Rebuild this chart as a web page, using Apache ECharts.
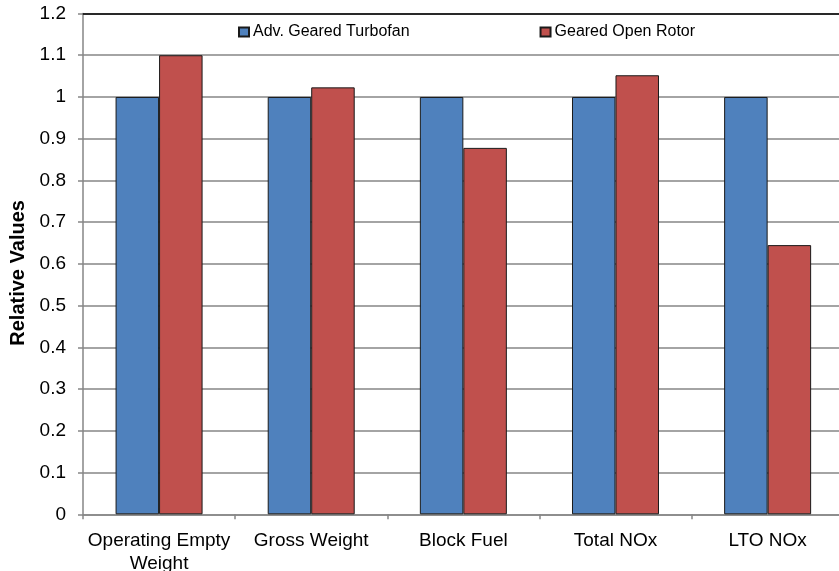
<!DOCTYPE html>
<html>
<head>
<meta charset="utf-8">
<script src="https://cdn.jsdelivr.net/npm/echarts@6/dist/echarts.min.js"></script>
<style>
  html, body { margin: 0; padding: 0; background: #fff; }
  #chart { width: 839px; height: 571px; }
</style>
</head>
<body>
<div id="chart"></div>
<script>
// Engine comparison, values relative to the turbofan baseline
const categories = ['Operating Empty\nWeight', 'Gross Weight', 'Block Fuel', 'Total NOx', 'LTO NOx'];
const turbofanValues = [1, 1, 1, 1, 1];
const openRotorValues = [1.10, 1.023, 0.878, 1.052, 0.645];
const seriesNames = ['Adv. Geared Turbofan', 'Geared Open Rotor'];

const FONT = 'Liberation Sans, Arial, sans-serif';
const GRID_GRAY = '#868686';

const chart = echarts.init(document.getElementById('chart'), null, { renderer: 'canvas' });

chart.setOption({
  animation: false,
  backgroundColor: '#ffffff',
  textStyle: { fontFamily: FONT },
  grid: { left: 83, top: 13.5, right: -4.7, bottom: 56.7, containLabel: false, outerBoundsMode: 'none' },
  legend: {
    left: 233,
    top: 19,
    itemWidth: 10,
    itemHeight: 9,
    itemGap: 130,
    icon: 'rect',
    textStyle: { fontFamily: FONT, fontSize: 16, color: '#000', padding: [0, 0, 0, -1] },
    data: seriesNames
  },
  xAxis: [
    {
      type: 'category',
      data: categories,
      position: 'bottom',
      axisLine: { lineStyle: { color: GRID_GRAY, width: 1.5 } },
      axisTick: { show: true, length: 5, inside: false, lineStyle: { color: GRID_GRAY, width: 1.5 } },
      axisLabel: { interval: 0, margin: 15, fontSize: 19, lineHeight: 23, color: '#000', fontFamily: FONT },
      splitLine: { show: false }
    },
    {
      type: 'category',
      data: categories,
      position: 'top',
      axisLine: { lineStyle: { color: '#000', width: 1.5 } },
      axisTick: { show: false },
      axisLabel: { show: false },
      splitLine: { show: false }
    }
  ],
  yAxis: {
    type: 'value',
    min: 0,
    max: 1.2,
    interval: 0.1,
    name: 'Relative Values',
    nameLocation: 'middle',
    nameRotate: 90,
    nameGap: 47,
    nameTextStyle: { fontSize: 20, fontWeight: 'bold', color: '#000', fontFamily: FONT, padding: [0, 18, 0, 0] },
    axisLine: { show: true, lineStyle: { color: GRID_GRAY, width: 1.5 } },
    axisTick: { show: true, length: 5, lineStyle: { color: GRID_GRAY, width: 1.5 } },
    axisLabel: { margin: 17, fontSize: 19, color: '#000', fontFamily: FONT },
    splitLine: { show: true, lineStyle: { color: GRID_GRAY, width: 1.5 } }
  },
  series: [
    {
      name: seriesNames[0],
      type: 'bar',
      data: turbofanValues,
      barWidth: 43.5,
      barGap: '0%',
      itemStyle: { color: '#4F81BD', borderColor: '#1a1a1a', borderWidth: 1 }
    },
    {
      name: seriesNames[1],
      type: 'bar',
      data: openRotorValues,
      barWidth: 43.5,
      barGap: '0%',
      itemStyle: { color: '#C0504D', borderColor: '#1a1a1a', borderWidth: 1 }
    }
  ]
});
</script>
</body>
</html>
